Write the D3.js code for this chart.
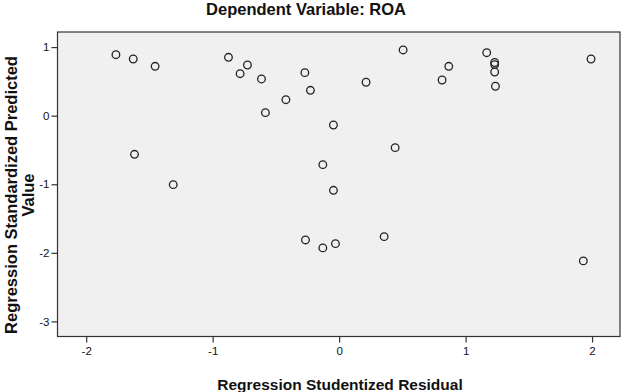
<!DOCTYPE html>
<html>
<head>
<meta charset="utf-8">
<script src="https://cdn.jsdelivr.net/npm/d3@7"></script>
<style>
  body { margin: 0; background: #fff; }
  svg text { font-family: "Liberation Sans", Arial, sans-serif; fill: #111; }
  .title { font-weight: bold; }
  .tick text { font-size: 11.5px; }
</style>
</head>
<body>
<div class="canvas"></div>
<script>
var pageWidth = 627,
    pageHeight = 392;
var margins = {t:32, r:7, b:55.5, l:57.5};
var plotWidth = pageWidth - margins.l - margins.r,
    plotHeight = pageHeight - margins.t - margins.b;

// studentized residual (x) vs standardized predicted value (y)
var residuals = [-1.765, -1.628, -1.455, -0.875, -0.783, -0.725, -0.614, -0.583, -0.421, -0.271,
                 -0.227, -0.045, -1.618, -1.312, -0.129, -0.045, 0.213, 0.506, 0.867, 0.814,
                 1.167, 1.230, 1.230, 1.230, 1.236, 1.992, 0.443, -0.266, -0.129, -0.029,
                 0.356, 1.931];
var predicted = [0.889, 0.826, 0.720, 0.851, 0.612, 0.739, 0.535, 0.044, 0.233, 0.627,
                 0.370, -0.136, -0.563, -1.006, -0.714, -1.088, 0.487, 0.958, 0.720, 0.520,
                 0.918, 0.775, 0.745, 0.637, 0.429, 0.826, -0.466, -1.812, -1.928, -1.866,
                 -1.764, -2.118];
var xTicks = [-2, -1, 0, 1, 2],
    yTicks = [1, 0, -1, -2, -3];

var svg = d3.select('.canvas')
    .append('svg')
    .attr('width', pageWidth)
    .attr('height', pageHeight);

var plot = svg.append('g')
    .attr('transform', 'translate(' + margins.l + ',' + margins.t + ')');

var x = d3.scaleLinear().domain([-2.227, 2.221]).range([0, plotWidth]);
var y = d3.scaleLinear().domain([1.22, -3.22]).range([0, plotHeight]);

plot.append('rect')
    .attr('width', plotWidth)
    .attr('height', plotHeight)
    .attr('fill', '#f0f0f0')
    .attr('stroke', '#333')
    .attr('stroke-width', 1.2);

// plain hyphen for negatives, like the original
var fmt = function(d){ return String(d); };

var xAxis = plot.append('g')
    .attr('transform', 'translate(0,' + plotHeight + ')')
    .call(d3.axisBottom(x).tickValues(xTicks).tickSize(6).tickPadding(4).tickFormat(fmt));
var yAxis = plot.append('g')
    .call(d3.axisLeft(y).tickValues(yTicks).tickSize(6).tickPadding(2).tickFormat(fmt));
[xAxis, yAxis].forEach(function(a){
    a.select('.domain').remove();
    a.selectAll('.tick line').attr('stroke', '#333').attr('stroke-width', 1.2);
    a.selectAll('.tick text').attr('fill', '#111');
});

plot.append('g')
    .selectAll('circle')
    .data(residuals)
    .enter()
    .append('circle')
    .attr('cx', function(d){ return x(d); })
    .attr('cy', function(d, i){ return y(predicted[i]); })
    .attr('r', 3.8)
    .attr('fill', 'none')
    .attr('stroke', '#222')
    .attr('stroke-width', 1.3);

svg.append('text')
    .attr('class', 'title')
    .attr('x', 306)
    .attr('y', 15)
    .attr('text-anchor', 'middle')
    .style('font-size', '16.5px')
    .text('Dependent Variable: ROA');

svg.append('text')
    .attr('class', 'title')
    .attr('x', 340)
    .attr('y', 390)
    .attr('text-anchor', 'middle')
    .style('font-size', '15.5px')
    .text('Regression Studentized Residual');

var yTitle = svg.append('text')
    .attr('class', 'title')
    .attr('transform', 'translate(16.5,195) rotate(-90)')
    .attr('text-anchor', 'middle')
    .style('font-size', '16.5px');
yTitle.append('tspan').attr('x', 0).attr('y', 0).text('Regression Standardized Predicted');
yTitle.append('tspan').attr('x', 0).attr('y', 17).text('Value');
</script>
</body>
</html>
